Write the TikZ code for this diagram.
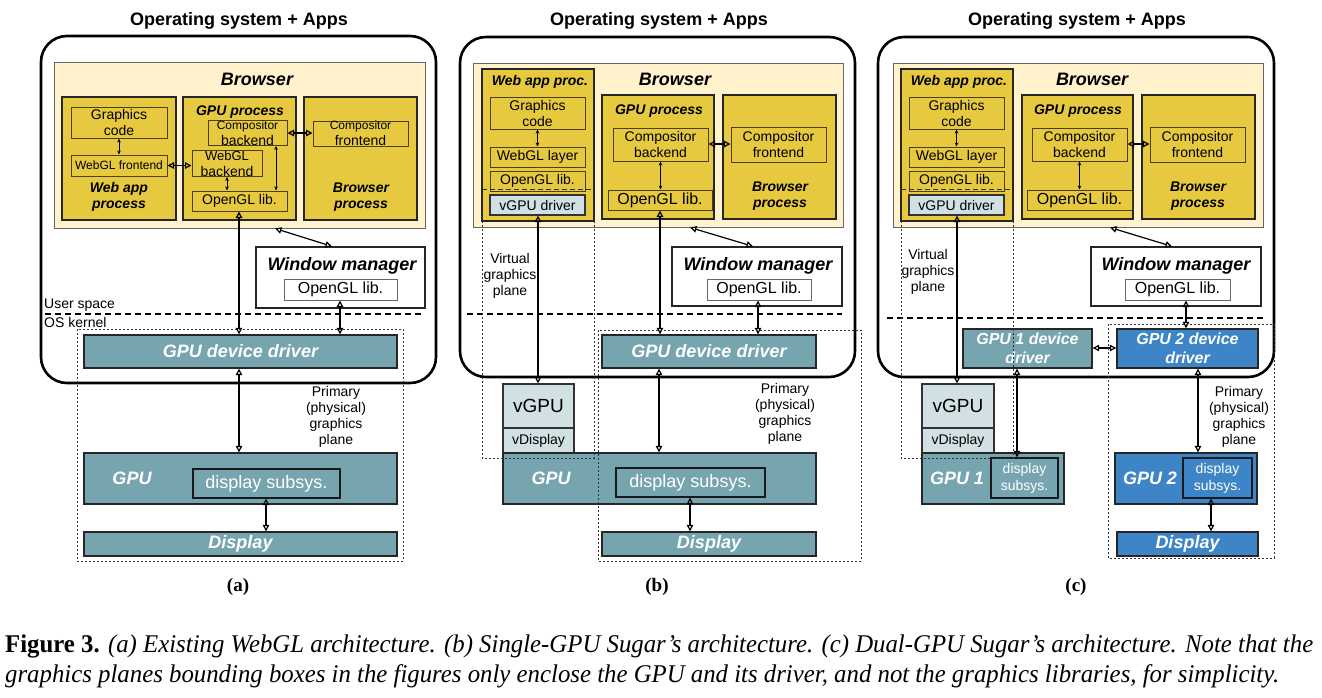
\documentclass[tikz,border=0pt]{standalone}
\usepackage{fontspec}
\setmainfont{Liberation Sans}
\newfontfamily\capfont{Liberation Serif}
\usepackage{graphicx}
\usetikzlibrary{arrows.meta}
\definecolor{cream}{HTML}{FFF2CC}
\definecolor{yel}{HTML}{E6C93F}
\definecolor{olivedk}{HTML}{4A4018}
\definecolor{tealc}{HTML}{76A5AF}
\definecolor{bluec}{HTML}{3D85C6}
\definecolor{lightc}{HTML}{D0E0E3}
\newcommand\fs[2]{\fontsize{#1pt}{#2pt}\selectfont}
\newcommand\B[7][]{\pgfmathsetmacro\bw{#5-#3}\pgfmathsetmacro\bh{#6-#4}%
  \node[inner sep=0pt, minimum width=\bw pt, minimum height=\bh pt, #1] (#2) at ({(#3+#5)/2},{(#4+#6)/2}) {#7};}
\newcommand\capone{\capfont\fs{25.5}{30}\textbf{Figure 3.} \textit{(a) Existing WebGL architecture. (b) Single-GPU Sugar’s architecture. (c) Dual-GPU Sugar’s architecture. Note that the}}
\newcommand\captwo{\capfont\fs{25.5}{30}\textit{graphics planes bounding boxes in the figures only enclose the GPU and its driver, and not the graphics libraries, for simplicity.}}
\newlength\capw
\begin{document}
\settowidth\capw{\capone}%
\pgfmathsetmacro\capr{1308/\capw}%
\begin{tikzpicture}[x=1pt, y=-1pt,
  every node/.style={align=center, font=\fs{14}{16}},
  brow/.style={fill=cream, draw=black!60, line width=1pt},
  proc/.style={fill=yel, draw=black!85, line width=1.3pt},
  inbox/.style={fill=yel, draw=olivedk, line width=1pt},
  wbox/.style={fill=white, draw=black!85, line width=1.3pt},
  wib/.style={fill=white, draw=black!60, line width=1pt, font=\fs{16}{18}},
  tealbox/.style={fill=tealc, draw=black!85, line width=1.3pt, text=white, font=\fs{18}{20}\bfseries\itshape},
  bluebox/.style={tealbox, fill=bluec},
  subbox/.style={draw=black!90, line width=1.3pt, text=white, font=\fs{18}{20}},
  light/.style={fill=lightc, draw=black!80, line width=1.2pt},
  outerbox/.style={draw=black, line width=2.6pt, rounded corners=26pt},
  arr/.style={{Triangle[open,length=6.5pt,width=6.5pt]}-{Triangle[open,length=6.5pt,width=6.5pt]}, line width=1.2pt},
  sarr/.style={{Stealth[length=4pt,width=3.5pt]}-{Stealth[length=4pt,width=3.5pt]}, line width=0.8pt},
  sepline/.style={dash pattern=on 6pt off 4pt, line width=1.2pt},
  plane/.style={dash pattern=on 2pt off 2pt, line width=0.9pt, draw=black!80},
  innersep/.style={dash pattern=on 5pt off 3pt, line width=0.9pt, draw=black!80},
  ttl/.style={font=\fs{18}{20}\bfseries},
  bi/.style={font=\fs{14}{16}\bfseries\itshape},
  bt/.style={font=\fs{18}{20}\bfseries\itshape},
  wt/.style={font=\fs{18}{20}\bfseries\itshape, text=white},
  sub/.style={font=\capfont\fs{19}{21}\bfseries}
]
\useasboundingbox (0,0) rectangle (1322,697);

%%%%%%%%%%%%%%%%%%%% (a)
\node[ttl] (tta) at (239,21) {Operating system + Apps};
\B[outerbox]{osa}{41}{36}{436}{383}{}
\B[brow]{bra}{54}{62}{425}{228}{}
\node[bt] (brta) at (257,79) {Browser};
\B[proc]{wapa}{62}{97}{176}{220}{}
\B[inbox]{gca}{71}{107}{167}{138}{Graphics\\code}
\B[inbox]{wfa}{71}{155}{167}{176}{\fs{12}{13}WebGL frontend}
\node[bi] (wapta) at (119,197) {Web app\\process};
\B[proc]{gpa}{183}{97}{296}{220}{}
\node[bi] (gpta) at (240,112) {GPU process};
\B[inbox]{cba}{208}{121}{287}{145}{\fs{12}{13}Compositor\\backend}
\B[inbox]{wba}{192}{151}{262}{176}{\fs{13}{14.5}WebGL\\backend}
\B[inbox]{ogla}{192}{191}{287}{211}{OpenGL lib.}
\B[proc]{bpa}{304}{97}{417}{220}{}
\B[inbox]{cfa}{313}{121}{408}{146}{\fs{12}{13}Compositor\\frontend}
\node[bi] (bpta) at (361,197) {Browser\\process};
\B[wbox]{wma}{256}{247}{425}{308}{}
\node[bt] (wmta) at (342,266) {Window manager};
\B[wib]{wogla}{284}{279}{397}{300}{OpenGL lib.}
\draw[sepline] (45,314) -- (423,314);
\node[anchor=west, inner sep=0pt] (usa) at (44,305) {User space};
\node[anchor=west, inner sep=0pt] (oska) at (44,322) {OS kernel};
\B[tealbox]{drva}{84}{335}{397}{368}{GPU device driver}
\node (pta) at (336,417) {Primary\\(physical)\\graphics\\plane};
\B[tealbox]{gpua}{84}{453}{397}{504}{}
\node[wt] (gputa) at (132,478) {GPU};
\B[subbox]{dsa}{193}{469}{340}{498}{display subsys.}
\B[tealbox]{dispa}{84}{532}{397}{556}{Display}
\node[sub] (capa) at (238,587) {(a)};
% arrows
\draw[sarr] (gca.south) -- (wfa.north);
\draw[arr] (wfa.east) -- (wfa.east -| wba.west);
\draw[arr] (cba.east) -- (cba.east -| cfa.west);
\draw[sarr] (wba.south) -- (wba.south |- ogla.north);
\draw[sarr] (cba.south -| 276,0) -- (ogla.north -| 276,0);
\draw[arr] (ogla.south -| 239,0) -- (drva.north -| 239,0);
\draw[arr] (bra.south -| 275,0) -- (wma.north -| 332,0);
\draw[arr] (wogla.south -| 340,0) -- (drva.north -| 340,0);
\draw[arr] (drva.south -| 239,0) -- (gpua.north -| 239,0);
\draw[arr] (dsa.south -| 266,0) -- (dispa.north -| 266,0);
\draw[plane] (77,329) rectangle (403,561);

%%%%%%%%%%%%%%%%%%%% (b)
\node[ttl] (ttb) at (659,21) {Operating system + Apps};
\B[outerbox]{osb}{460}{37}{855}{377}{}
\B[brow]{brb}{473}{63}{843}{227}{}
\node[bt] (brtb) at (675,79) {Browser};
\B[proc]{wapb}{482}{69}{594}{221}{}
\node[bi] (waptb) at (540,82) {Web app proc.};
\B[inbox]{gcb}{490}{97}{585}{129}{Graphics\\code}
\B[inbox]{wlb}{490}{147}{585}{167}{WebGL layer}
\B[inbox]{oglwb}{490}{171}{585}{191}{OpenGL lib.}
\B[light]{vgdb}{490}{195}{585}{215}{vGPU driver}
\draw[innersep] (482,189) -- (594,189);
\B[proc]{gpb}{602}{95}{714}{219}{}
\node[bi] (gptb) at (659,111) {GPU process};
\B[inbox]{cbb}{613}{128}{708}{161}{Compositor\\backend}
\B[inbox]{oglb}{608}{190}{712}{210}{\fs{16}{18}OpenGL lib.}
\B[proc]{bpb}{723}{95}{836}{219}{}
\B[inbox]{cfb}{731}{127}{826}{162}{Compositor\\frontend}
\node[bi] (bptb) at (780,196) {Browser\\process};
\B[wbox]{wmb}{672}{247}{842}{306}{}
\node[bt] (wmtb) at (758,266) {Window manager};
\B[wib]{woglb}{707}{279}{811}{300}{OpenGL lib.}
\draw[sepline] (467,314) -- (842,314);
\node (vptb) at (510,276) {Virtual\\graphics\\plane};
\B[tealbox]{drvb}{602}{335}{816}{368}{GPU device driver}
\B[light]{vgpub}{503}{384}{574}{428}{\fs{19}{21}vGPU}
\B[light]{vdb}{503}{428}{574}{453}{vDisplay}
\node (ptb) at (785,414) {Primary\\(physical)\\graphics\\plane};
\B[tealbox]{gpub}{503}{453}{816}{504}{}
\node[wt] (gputb) at (551,478) {GPU};
\B[subbox]{dsb}{616}{468}{765}{497}{display subsys.}
\B[tealbox]{dispb}{602}{532}{816}{556}{Display}
\node[sub] (capb) at (657,587) {(b)};
% arrows
\draw[sarr] (gcb.south) -- (wlb.north);
\draw[arr] (cbb.east |- 0,144) -- (cfb.west |- 0,144);
\draw[sarr] (cbb.south) -- (cbb.south |- oglb.north);
\draw[arr] (vgdb.south -| 538,0) -- (vgpub.north -| 538,0);
\draw[arr] (oglb.south -| 660,0) -- (drvb.north -| 660,0);
\draw[arr] (brb.south -| 690,0) -- (wmb.north -| 753,0);
\draw[arr] (woglb.south -| 758,0) -- (drvb.north -| 758,0);
\draw[arr] (drvb.south -| 659,0) -- (gpub.north -| 659,0);
\draw[arr] (dsb.south -| 690,0) -- (dispb.north -| 690,0);
\draw[plane] (482,221) -- (482,458) -- (594,458) -- (594,221);
\draw[plane] (598,330) rectangle (861,561);

%%%%%%%%%%%%%%%%%%%% (c)
\node[ttl] (ttc) at (1077,21) {Operating system + Apps};
\B[outerbox]{osc}{878}{37}{1274}{377}{}
\B[brow]{brc}{893}{63}{1263}{227}{}
\node[bt] (brtc) at (1092,79) {Browser};
\B[proc]{wapc}{901}{69}{1013}{221}{}
\node[bi] (waptc) at (959,82) {Web app proc.};
\B[inbox]{gcc}{909}{97}{1004}{129}{Graphics\\code}
\B[inbox]{wlc}{909}{147}{1004}{167}{WebGL layer}
\B[inbox]{oglwc}{909}{171}{1004}{191}{OpenGL lib.}
\B[light]{vgdc}{909}{195}{1004}{215}{vGPU driver}
\draw[innersep] (901,189) -- (1013,189);
\B[proc]{gpc}{1022}{95}{1133}{219}{}
\node[bi] (gptc) at (1078,111) {GPU process};
\B[inbox]{cbc}{1032}{128}{1127}{161}{Compositor\\backend}
\B[inbox]{oglc}{1027}{190}{1132}{210}{\fs{16}{18}OpenGL lib.}
\B[proc]{bpc}{1142}{95}{1255}{219}{}
\B[inbox]{cfc}{1150}{127}{1245}{162}{Compositor\\frontend}
\node[bi] (bptc) at (1198,196) {Browser\\process};
\B[wbox]{wmc}{1091}{247}{1261}{306}{}
\node[bt] (wmtc) at (1176,266) {Window manager};
\B[wib]{woglc}{1125}{279}{1230}{300}{OpenGL lib.}
\draw[sepline] (887,318) -- (1263,318);
\node (vptc) at (928,272) {Virtual\\graphics\\plane};
\B[tealbox, font=\fs{16}{19}\bfseries\itshape]{drv1c}{963}{329}{1092}{368}{GPU 1 device\\driver}
\B[bluebox, font=\fs{16}{19}\bfseries\itshape]{drv2c}{1117}{329}{1258}{368}{GPU 2 device\\driver}
\B[light]{vgpuc}{922}{384}{994}{428}{\fs{19}{21}vGPU}
\B[light]{vdc}{922}{428}{994}{453}{vDisplay}
\B[tealbox]{gpu1c}{922}{453}{1064}{504}{}
\node[wt] (gpu1tc) at (957,478) {GPU 1};
\B[subbox, fill=tealc, font=\fs{14}{17}]{ds1c}{991}{458}{1058}{498}{display\\subsys.}
\node (ptc) at (1239,417) {Primary\\(physical)\\graphics\\plane};
\B[bluebox]{gpu2c}{1115}{453}{1257}{504}{}
\node[wt] (gpu2tc) at (1150,478) {GPU 2};
\B[subbox, fill=bluec, font=\fs{14}{17}]{ds2c}{1183}{458}{1252}{498}{display\\subsys.}
\B[bluebox]{dispc}{1117}{532}{1258}{556}{Display}
\node[sub] (capc) at (1076,587) {(c)};
% arrows
\draw[sarr] (gcc.south) -- (wlc.north);
\draw[arr] (cbc.east |- 0,144) -- (cfc.west |- 0,144);
\draw[sarr] (cbc.south) -- (cbc.south |- oglc.north);
\draw[arr] (vgdc.south -| 957,0) -- (vgpuc.north -| 957,0);
\draw[arr] (brc.south -| 1110,0) -- (wmc.north -| 1172,0);
\draw[arr] (woglc.south -| 1186,0) -- (drv2c.north -| 1186,0);
\draw[arr] (drv1c.east |- 0,348) -- (drv2c.west |- 0,348);
\draw[arr] (drv1c.south -| 1017,0) -- (ds1c.north -| 1017,0);
\draw[arr] (drv2c.south -| 1198,0) -- (gpu2c.north -| 1198,0);
\draw[arr] (ds2c.south -| 1211,0) -- (dispc.north -| 1211,0);
\draw[plane] (901,221) -- (901,458) -- (1013,458) -- (1013,221);
\draw[plane] (1108,324) rectangle (1274,558);

%%%%%%%%%%%%%%%%%%%% caption
\node[anchor=base west, inner sep=0pt, align=left] (cap1) at (5,652) {\scalebox{\capr}[1]{\capone}};
\node[anchor=base west, inner sep=0pt, align=left] (cap2) at (5,682) {\scalebox{\capr}[1]{\captwo}};
\end{tikzpicture}
\end{document}
